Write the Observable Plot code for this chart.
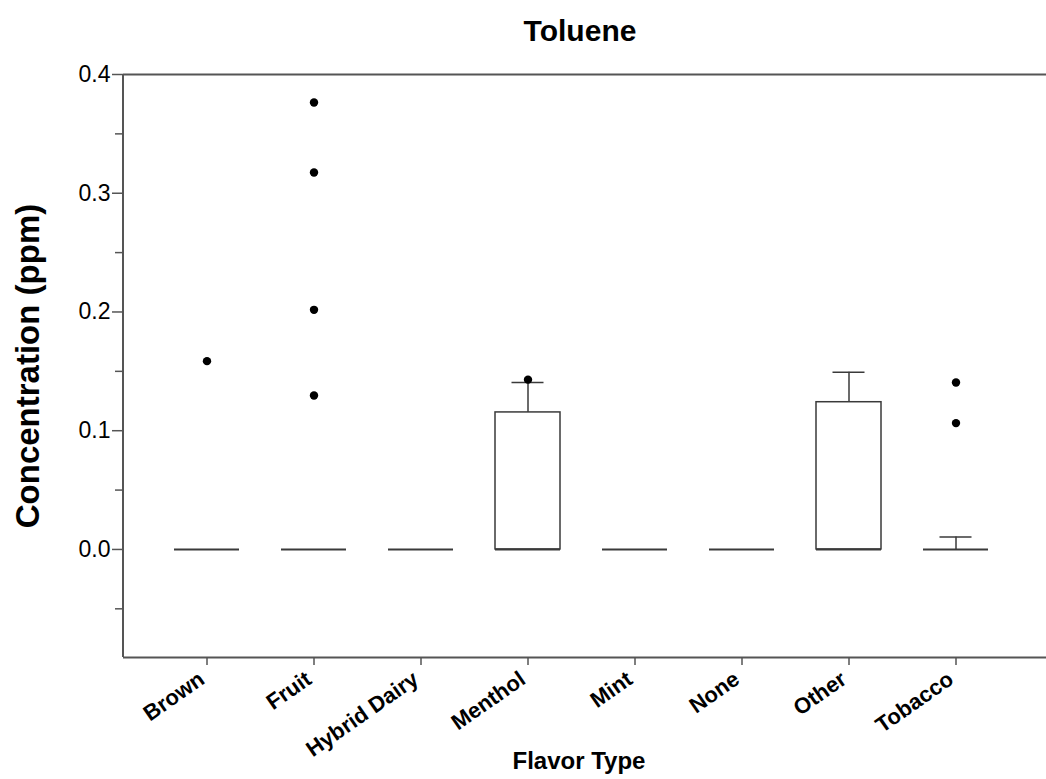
<!DOCTYPE html>
<html>
<head>
<meta charset="utf-8">
<script src="https://cdn.jsdelivr.net/npm/d3@7"></script>
<script src="https://cdn.jsdelivr.net/npm/@observablehq/plot@0.6"></script>
<style>
  html, body { margin: 0; padding: 0; background: #fff; }
  #chart svg { display: block; }
</style>
</head>
<body>
<div id="chart"></div>
<script>
// ---- data ----
const categories = ["Brown", "Fruit", "Hybrid Dairy", "Menthol", "Mint", "None", "Other", "Tobacco"];
const q1Values = [0, 0, 0, 0, 0, 0, 0, 0];
const medianValues = [0, 0, 0, 0, 0, 0, 0, 0];
const q3Values = [0, 0, 0, 0.1154, 0, 0, 0.124, 0];
const whiskerHighValues = [0, 0, 0, 0.1406, 0, 0, 0.1493, 0.0104];
const outlierCategories = ["Brown", "Fruit", "Fruit", "Fruit", "Fruit", "Menthol", "Tobacco", "Tobacco"];
const outlierValues = [0.1586, 0.3764, 0.3175, 0.2018, 0.1297, 0.143, 0.1406, 0.1064];
const yMajorTicks = [0, 0.1, 0.2, 0.3, 0.4];
const yMinorTicks = [-0.05, 0.05, 0.15, 0.25, 0.35];
const yDomain = [-0.091, 0.4];
const titleText = "Toluene";
const xLabelText = "Flavor Type";
const yLabelText = "Concentration (ppm)";

// ---- derived tables ----
const boxes = categories.map((c, i) => ({
  cat: c, q1: q1Values[i], med: medianValues[i], q3: q3Values[i], hi: whiskerHighValues[i]
}));
const outliers = outlierCategories.map((c, i) => ({cat: c, v: outlierValues[i]}));

const axisColor = "#555";
const lineColor = "#3a3a3a";

const leftLine = (index, scales, values, dims) => {
  const g = d3.create("svg:g");
  g.append("line")
    .attr("x1", dims.marginLeft).attr("x2", dims.marginLeft)
    .attr("y1", dims.marginTop).attr("y2", dims.height - dims.marginBottom)
    .attr("stroke", axisColor).attr("stroke-width", 2);
  return g.node();
};

const chart = Plot.plot({
  width: 1046,
  height: 779,
  marginLeft: 123,
  marginRight: 0,
  marginTop: 74,
  marginBottom: 122,
  style: {fontFamily: "'Liberation Sans', Arial, sans-serif", color: "#000", background: "#fff"},
  x: {type: "band", domain: categories, paddingInner: 0.395, paddingOuter: 0.493, align: 0.467, axis: null},
  y: {domain: yDomain, axis: null},
  marks: [
    // frame lines
    Plot.ruleY([yDomain[1]], {stroke: axisColor, strokeWidth: 2}),
    Plot.ruleY([yDomain[0]], {stroke: axisColor, strokeWidth: 2}),
    leftLine,
    // y axis
    Plot.axisY({ticks: yMajorTicks, tickSize: 11, tickPadding: 2, tickFormat: ".1f",
      fontSize: 23, stroke: axisColor, strokeWidth: 1.5, fill: "#000", label: null}),
    Plot.axisY({ticks: yMinorTicks, tickSize: 8, tickFormat: () => "", stroke: axisColor,
      strokeWidth: 1.5, label: null}),
    // x axis ticks
    Plot.axisX({tickSize: 8, tickFormat: () => "", stroke: axisColor, strokeWidth: 1.5, label: null}),
    // rotated category labels
    Plot.text(categories, {x: d => d, text: d => d, frameAnchor: "bottom", dy: 25, dx: -1,
      rotate: -35, textAnchor: "end", lineAnchor: "bottom", fontSize: 22, fontWeight: "bold", fill: "#000"}),
    // whiskers
    Plot.ruleX(boxes.filter(d => d.hi > d.q3), {x: "cat", y1: "q3", y2: "hi", stroke: lineColor, strokeWidth: 1.5}),
    Plot.tickY(boxes.filter(d => d.hi > d.q3), {x: "cat", y: "hi", insetLeft: 16.5, insetRight: 16.5,
      stroke: lineColor, strokeWidth: 1.5}),
    // boxes
    Plot.barY(boxes.filter(d => d.q3 > d.q1), {x: "cat", y1: "q1", y2: "q3", fill: "#fff",
      stroke: lineColor, strokeWidth: 1.5}),
    // medians
    Plot.tickY(boxes, {x: "cat", y: "med", stroke: lineColor, strokeWidth: 2}),
    // outliers
    Plot.dot(outliers, {x: "cat", y: "v", r: 4.2, fill: "#000", stroke: null}),
    // titles
    Plot.text([titleText], {frameAnchor: "top", dy: -43, dx: -5, lineAnchor: "middle",
      fontSize: 30, fontWeight: "bold", fill: "#000"}),
    Plot.text([xLabelText], {frameAnchor: "bottom", dy: 104, dx: -6, lineAnchor: "middle",
      fontSize: 24, fontWeight: "bold", fill: "#000"}),
    Plot.text([yLabelText], {frameAnchor: "left", dx: -95, dy: 0, rotate: -90, lineAnchor: "middle",
      textAnchor: "middle", fontSize: 33, fontWeight: "bold", fill: "#000"})
  ]
});
document.getElementById("chart").appendChild(chart);
</script>
</body>
</html>
